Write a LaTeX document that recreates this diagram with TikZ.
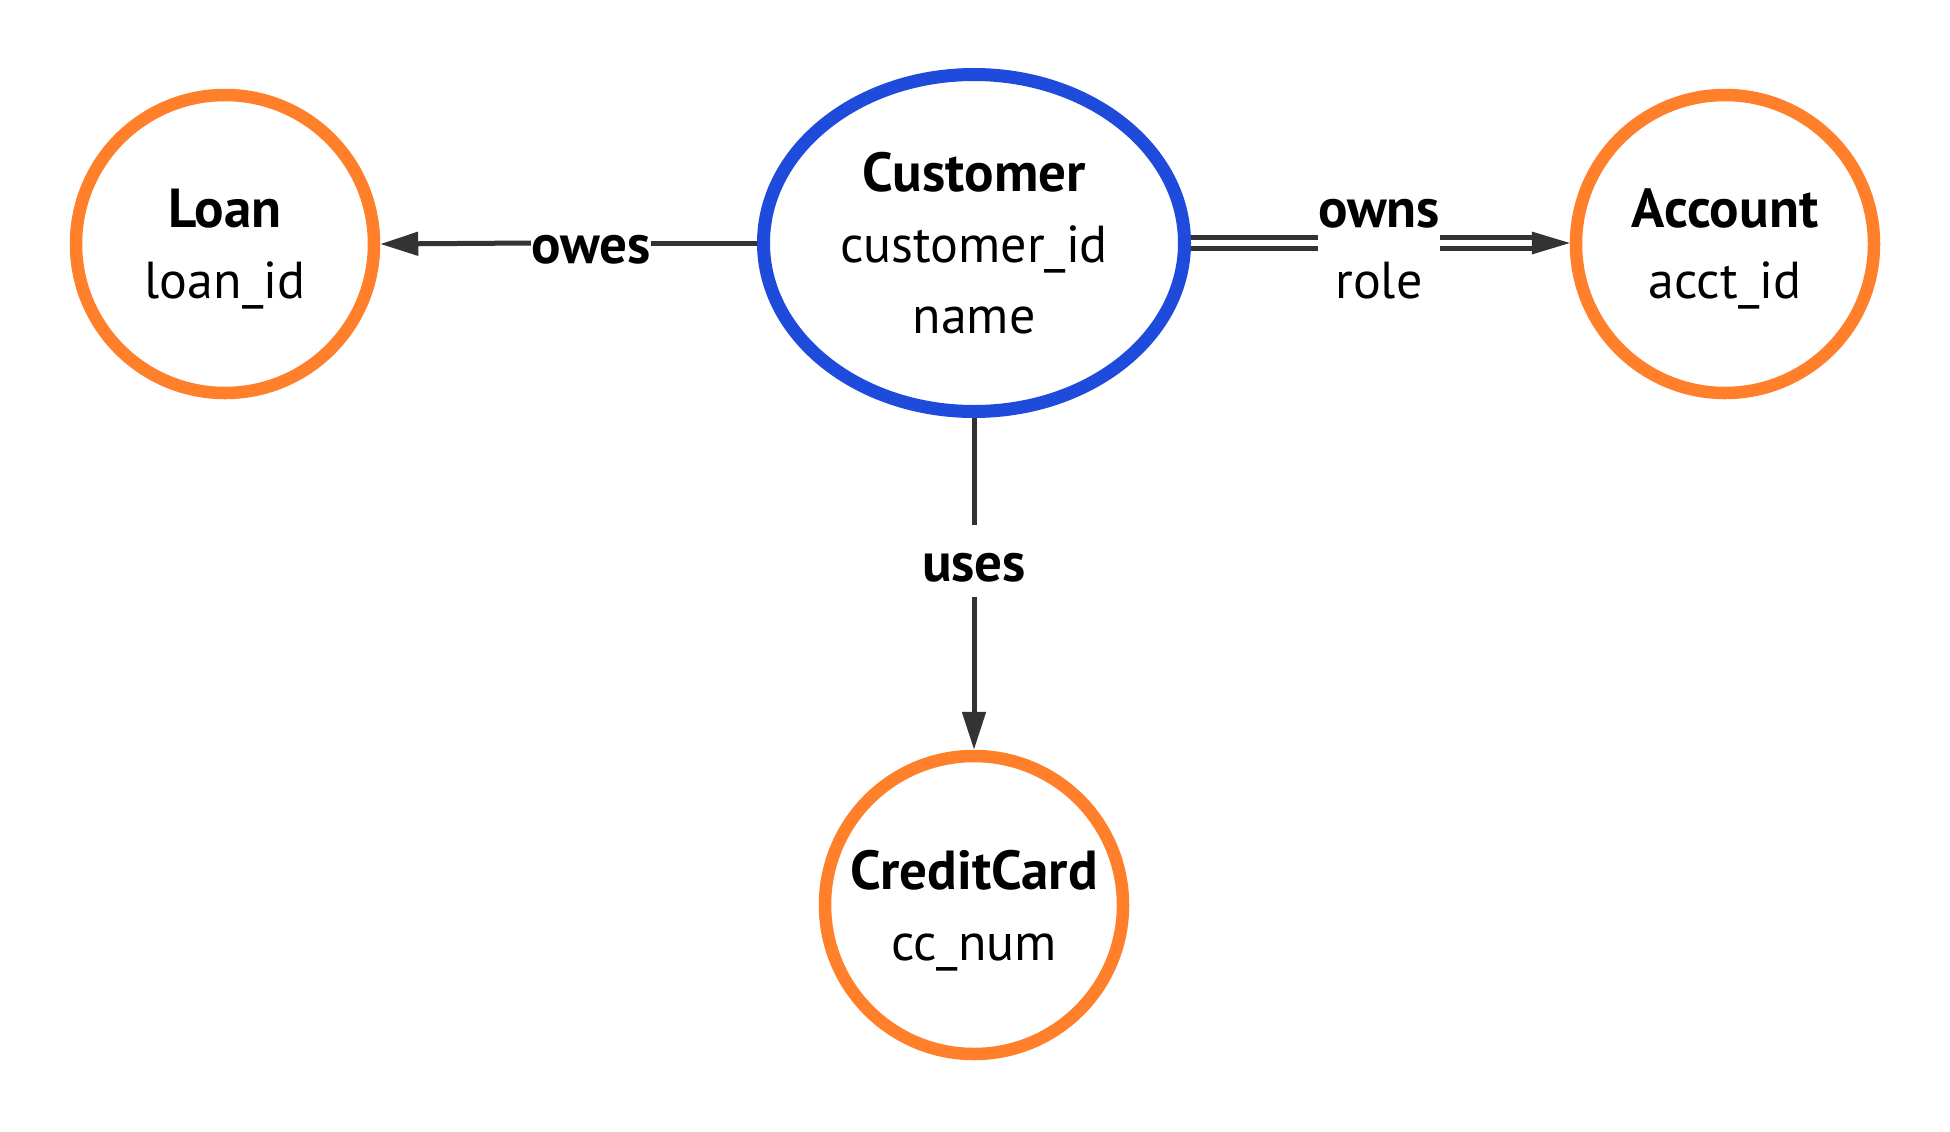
\documentclass[tikz,border=0pt]{standalone}
\usepackage{fontspec}
\setmainfont{PT Sans}
\usetikzlibrary{arrows.meta,shapes.geometric,calc}
\definecolor{entblue}{RGB}{31,75,221}
\definecolor{entorange}{RGB}{255,127,42}
\definecolor{edgegray}{RGB}{51,51,51}
\newcommand\boldline[1]{{\fontsize{27.5pt}{35.5pt}\selectfont\bfseries #1}}
\begin{document}
\begin{tikzpicture}[x=0.5pt,y=-0.5pt,
  txt/.style={font=\fontsize{26pt}{35.5pt}\selectfont},
  entity/.style={txt,circle,draw=entorange,line width=6.25pt,minimum size=149pt,inner sep=0pt,align=center,fill=white,text depth=0pt},
  mainent/.style={txt,ellipse,draw=entblue,line width=6.5pt,minimum width=210.5pt,minimum height=168.5pt,inner sep=0pt,align=center,fill=white,text depth=0pt},
  rel/.style={draw=edgegray,line width=2.5pt},
  tip/.style={-{Triangle[length=19pt,width=11.5pt]}},
  lbl/.style={txt,inner sep=0pt,text height=28pt,text depth=8pt,align=center},
  lbltwo/.style={txt,inner sep=0pt,text depth=0pt,align=center}
]
\useasboundingbox[fill=white] (0,0) rectangle (1950,1131);
\node[mainent] (cust) at (974,243) {\boldline{Customer}\\customer\_id\\name};
\node[entity] (loan) at (225,244) {\boldline{Loan}\\loan\_id};
\node[entity] (acct) at (1725,244) {\boldline{Account}\\acct\_id};
\node[entity] (cc) at (974,905) {\boldline{CreditCard}\\cc\_num};

\node[lbl] (oweslbl) at (591,243) {\boldline{owes}};
\draw[rel] (cust.west) -- (oweslbl.east);
\draw[rel,tip] (oweslbl.west) -- (loan.east);

\node[lbl] (useslbl) at (974,561) {\boldline{uses}};
\draw[rel] (cust.south) -- (useslbl.north);
\draw[rel,tip] (useslbl.south) -- (cc.north);

\node[lbltwo] (ownslbl) at (1379,249) {\boldline{owns}\\role};
\draw[rel] ([yshift=2.75pt]cust.east) -- ([yshift=2.75pt]cust.east -| ownslbl.west);
\draw[rel] ([yshift=-2.75pt]cust.east) -- ([yshift=-2.75pt]cust.east -| ownslbl.west);
\draw[rel] ([yshift=2.75pt]cust.east -| ownslbl.east) -- ([yshift=2.75pt,xshift=-15pt]cust.east -| acct.west);
\draw[rel] ([yshift=-2.75pt]cust.east -| ownslbl.east) -- ([yshift=-2.75pt,xshift=-15pt]cust.east -| acct.west);
\fill[edgegray] (cust.east -| acct.west) -- ([xshift=-19pt,yshift=5.75pt]cust.east -| acct.west) -- ([xshift=-19pt,yshift=-5.75pt]cust.east -| acct.west) -- cycle;
\end{tikzpicture}
\end{document}
